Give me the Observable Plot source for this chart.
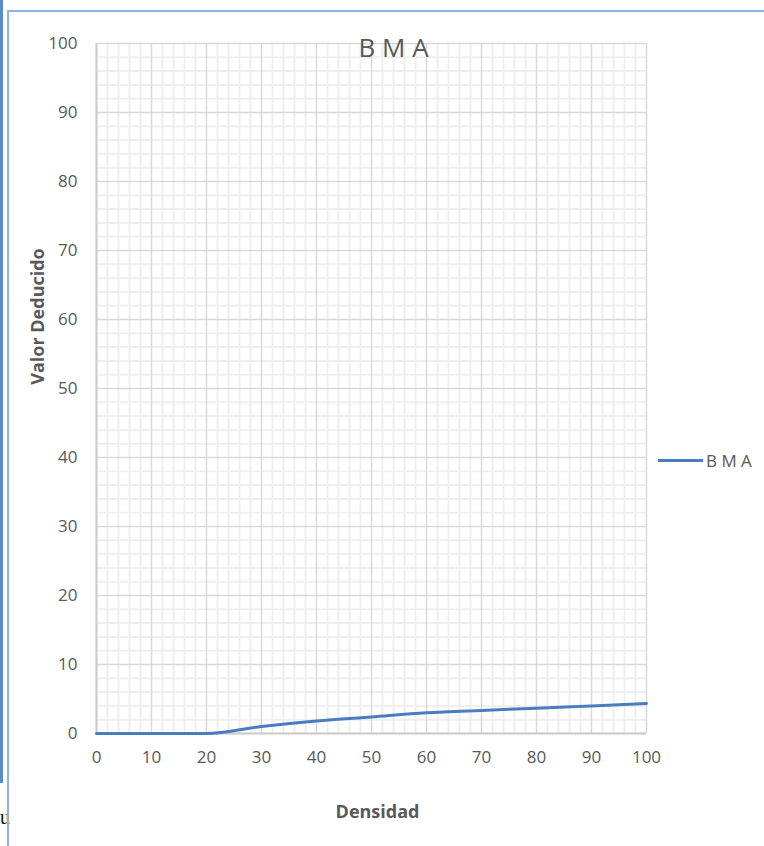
<!DOCTYPE html>
<html>
<head>
<meta charset="utf-8">
<script src="https://cdn.jsdelivr.net/npm/d3@7"></script>
<script src="https://cdn.jsdelivr.net/npm/@observablehq/plot@0.6"></script>
<style>
  html, body { margin: 0; padding: 0; background: #fff; }
  #wrap { position: relative; width: 764px; height: 846px; overflow: hidden; font-family: "Open Sans", sans-serif; }
  #wrap svg.plot { position: absolute; left: 0; top: 0; }
  .edge-dark { position: absolute; left: 0; top: 0; width: 3px; height: 783px; background: #5a8ad0; }
  .edge-left { position: absolute; left: 7px; top: 10px; width: 2px; height: 836px; background: #8db3e2; }
  .edge-top { position: absolute; left: 7px; top: 10px; width: 757px; height: 2px; background: #8db3e2; }
  .stray { position: absolute; left: 0; top: 806px; font: 20px "Liberation Serif", serif; color: #111; }
  .legend { position: absolute; left: 658px; top: 449px; display: flex; align-items: center; font-size: 17px; color: #595959; }
  .legend .swatch { width: 45px; height: 3px; background: #4a7cc0; margin-right: 3px; }
</style>
</head>
<body>
<div id="wrap">
  <div class="stray">u</div>
  <div class="edge-dark"></div>
  <div class="edge-left"></div>
  <div class="edge-top"></div>
  <div class="legend"><div class="swatch"></div><span>B M A</span></div>
</div>
<script>
// Curva de valor deducido para BMA
const densidad = [0, 10, 20, 30, 40, 50, 60, 70, 80, 90, 100];
const valorDeducido = [0, 0, 0, 1.0, 1.8, 2.4, 3.0, 3.35, 3.65, 4.0, 4.35];
const serie = "B M A";
const xTicks = [0, 10, 20, 30, 40, 50, 60, 70, 80, 90, 100];
const yTicks = [0, 10, 20, 30, 40, 50, 60, 70, 80, 90, 100];
const minorTicks = d3.range(0, 101, 2).filter(v => v % 10 !== 0);

const data = densidad.map((d, i) => ({x: d, y: valorDeducido[i]}));
const gray = "#595959";

const chart = Plot.plot({
  width: 764,
  height: 846,
  marginLeft: 96,
  marginRight: 118,
  marginTop: 43,
  marginBottom: 113,
  style: {fontFamily: "Open Sans, sans-serif", fontSize: "17px", color: gray, background: "transparent"},
  x: {domain: [0, 100], ticks: xTicks, tickSize: 0, tickPadding: 17, label: null},
  y: {domain: [0, 100], ticks: yTicks, tickSize: 0, tickPadding: 19, label: null},
  marks: [
    // minor grid
    Plot.ruleX(minorTicks, {stroke: "#efefef", strokeWidth: 2}),
    Plot.ruleY(minorTicks, {stroke: "#efefef", strokeWidth: 2}),
    // major grid
    Plot.ruleX(xTicks, {stroke: "#d9d9d9", strokeWidth: 1.5}),
    Plot.ruleY(yTicks, {stroke: "#d9d9d9", strokeWidth: 1.5}),
    // axis lines
    Plot.ruleX([0], {stroke: "#cbcbcb", strokeWidth: 2}),
    Plot.ruleY([0], {stroke: "#cbcbcb", strokeWidth: 2}),
    Plot.axisX({ticks: xTicks, tickSize: 0, tickPadding: 17, fill: gray, fontSize: 17, label: null}),
    Plot.axisY({ticks: yTicks, tickSize: 0, tickPadding: 19, fill: gray, fontSize: 17, label: null}),
    Plot.line(data, {x: "x", y: "y", stroke: "#4a7cc0", strokeWidth: 3, curve: "monotone-x"}),
    // title
    Plot.text([serie], {frameAnchor: "top", lineAnchor: "bottom", dx: 22, dy: 13, fontSize: 26, fill: gray}),
    // axis titles
    Plot.text(["Densidad"], {frameAnchor: "bottom", lineAnchor: "bottom", dx: 6, dy: 84, fontSize: 18, fontWeight: "bold", fill: gray}),
    Plot.text(["Valor Deducido"], {frameAnchor: "left", textAnchor: "middle", lineAnchor: "bottom", rotate: -90, dx: -53, dy: -72, fontSize: 18, fontWeight: "bold", fill: gray})
  ]
});
chart.classList.add("plot");
document.getElementById("wrap").prepend(chart);
</script>
</body>
</html>
